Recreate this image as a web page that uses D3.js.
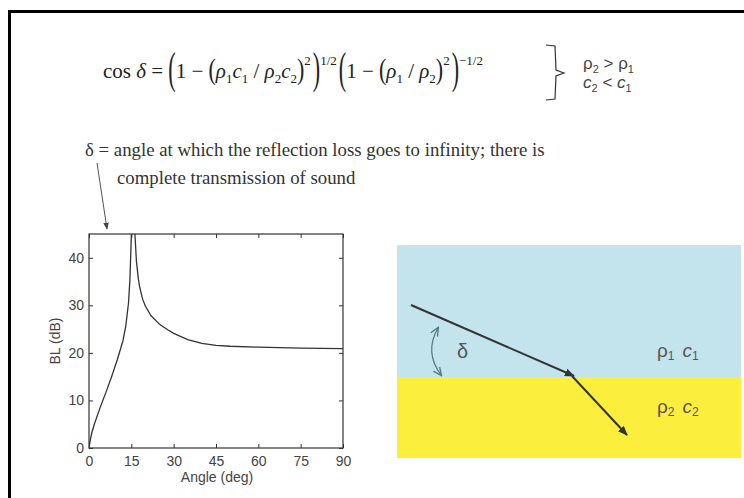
<!DOCTYPE html>
<html>
<head>
<meta charset="utf-8">
<script src="https://cdn.jsdelivr.net/npm/d3@7"></script>
<style>
  html, body { margin: 0; padding: 0; background: #fff; }
  svg { display: block; }
</style>
</head>
<body>
<svg id="fig" width="744" height="498"></svg>
<script>
// BL vs grazing angle
const angles = [0, 0.5, 1, 2, 4, 6, 8, 10, 12, 13, 14, 14.5, 15, 15.6, 16.3, 16.8, 17.5, 18, 19, 20, 22, 25, 28, 30, 35, 40, 45, 50, 60, 75, 90];
const blValues = [0, 1.8, 3.2, 5.2, 8.6, 11.7, 15, 18.5, 22.5, 25.5, 30.5, 35.5, 44.5, 62, 44.7, 39.3, 35.5, 33.7, 31.3, 29.8, 27.8, 26.0, 24.8, 24.1, 22.8, 22.0, 21.6, 21.4, 21.2, 21.0, 20.9];
const xTicks = [0, 15, 30, 45, 60, 75, 90];
const yTicks = [0, 10, 20, 30, 40];

const svg = d3.select('#fig');
const serif = 'Liberation Serif, Times New Roman, serif';
const sans = 'Liberation Sans, Arial, sans-serif';

// slide frame (only left/top visible)
svg.append('rect')
  .attr('x', 9.5).attr('y', 11.5)
  .attr('width', 900).attr('height', 700)
  .attr('fill', 'none').attr('stroke', '#000').attr('stroke-width', 3);

// ---- formula, laid out piece by piece ----
const formula = [
  ['cos ', 'n'], ['δ', 'i'], [' = ', 'n'], ['(', 'big'], ['1 − ', 'n'], ['(', 'mid'],
  ['ρ', 'i'], ['1', 'sub'], ['c', 'i'], ['1', 'sub'], [' / ', 'n'], ['ρ', 'i'], ['2', 'sub'], ['c', 'i'], ['2', 'sub'],
  [')', 'mid'], ['2', 'sup'], [')', 'big'], ['1/2', 'sup'],
  ['(', 'big'], ['1 − ', 'n'], ['(', 'mid'], ['ρ', 'i'], ['1', 'sub'], [' / ', 'n'], ['ρ', 'i'], ['2', 'sub'],
  [')', 'mid'], ['2', 'sup'], [')', 'big'], ['−1/2', 'sup']
];
const fBase = 78;
let cx = 103;
const fg = svg.append('g').attr('font-family', serif).attr('fill', '#222');
formula.forEach(([t, kind]) => {
  let el;
  if (kind === 'big' || kind === 'mid') {
    const sy = kind === 'big' ? 2.0 : 1.35;
    el = fg.append('text')
      .attr('transform', `translate(${cx},${fBase - 7}) scale(1,${sy})`)
      .attr('y', 6).attr('font-size', 22).text(t);
  } else {
    const dy = kind === 'sub' ? 5 : kind === 'sup' ? -13 : 0;
    el = fg.append('text').attr('x', cx).attr('y', fBase + dy)
      .attr('font-size', kind === 'sub' || kind === 'sup' ? 13 : 21)
      .attr('font-style', kind === 'i' ? 'italic' : null)
      .text(t);
  }
  el.attr('xml:space', 'preserve').style('white-space', 'pre');
  cx += el.node().getComputedTextLength() + (kind === 'sup' ? 2 : 0);
});

// brace + conditions
svg.append('path')
  .attr('d', 'M546,45 L555,46 L556,70 L564,73 L556,76 L555,99 L546,100')
  .attr('fill', 'none').attr('stroke', '#333').attr('stroke-width', 1.2);
const cond = [['ρ', '2', ' > ρ', '1'], ['c', '2', ' < c', '1']];
cond.forEach((c, i) => {
  const t = svg.append('text')
    .attr('x', 583).attr('y', 69 + i * 19)
    .attr('font-family', sans).attr('font-size', 17).attr('fill', '#444');
  t.append('tspan').text(c[0]).attr('font-style', i ? 'italic' : null);
  t.append('tspan').text(c[1]).attr('font-size', 11).attr('dy', 4);
  t.append('tspan').text(c[2]).attr('dy', -4).attr('font-style', i ? 'italic' : null);
  t.append('tspan').text(c[3]).attr('font-size', 11).attr('dy', 4);
});

// ---- annotation ----
svg.append('text')
  .attr('x', 85).attr('y', 156)
  .attr('font-family', serif).attr('font-size', 18.8).attr('fill', '#333')
  .text('δ = angle at which the reflection loss goes to infinity; there is');
svg.append('text')
  .attr('x', 117).attr('y', 184)
  .attr('font-family', serif).attr('font-size', 18.8).attr('fill', '#333')
  .text('complete transmission of sound');

const defs = svg.append('defs');
defs.append('marker')
  .attr('id', 'ah').attr('viewBox', '0 0 10 10').attr('refX', 9).attr('refY', 5)
  .attr('markerWidth', 7).attr('markerHeight', 7).attr('orient', 'auto')
  .append('path').attr('d', 'M0,1 L10,5 L0,9 Z').attr('fill', '#444');
defs.append('marker')
  .attr('id', 'ahBig').attr('viewBox', '0 0 10 10').attr('refX', 9).attr('refY', 5)
  .attr('markerWidth', 5).attr('markerHeight', 5).attr('orient', 'auto')
  .append('path').attr('d', 'M0,1 L10,5 L0,9 Z').attr('fill', '#333');
defs.append('marker')
  .attr('id', 'ahArc').attr('viewBox', '0 0 10 10').attr('refX', 8).attr('refY', 5)
  .attr('markerWidth', 8).attr('markerHeight', 8).attr('orient', 'auto-start-reverse')
  .append('path').attr('d', 'M0,1 L9,5 L0,9').attr('fill', 'none').attr('stroke', '#55777d').attr('stroke-width', 1.4);

svg.append('line')
  .attr('x1', 97).attr('y1', 163).attr('x2', 107).attr('y2', 229)
  .attr('stroke', '#555').attr('stroke-width', 1).attr('marker-end', 'url(#ah)');

// ---- BL plot ----
const plot = { left: 89, right: 343, top: 234, bottom: 448 };
const x = d3.scaleLinear().domain([0, 90]).range([plot.left, plot.right]);
const y = d3.scaleLinear().domain([0, 45]).range([plot.bottom, plot.top]);

defs.append('clipPath').attr('id', 'plotClip')
  .append('rect').attr('x', plot.left).attr('y', plot.top)
  .attr('width', plot.right - plot.left).attr('height', plot.bottom - plot.top);

const g = svg.append('g');
const styleAxis = (sel) => {
  sel.select('.domain').remove();
  sel.selectAll('line').attr('stroke', '#333');
  sel.selectAll('text').attr('font-family', sans).attr('font-size', 14).attr('fill', '#444');
};
g.append('g').attr('transform', `translate(0,${plot.bottom})`)
  .call(d3.axisBottom(x).tickValues(xTicks).tickSize(-4).tickPadding(8)).call(styleAxis);
g.append('g').attr('transform', `translate(0,${plot.top})`)
  .call(d3.axisTop(x).tickValues(xTicks).tickSize(-4).tickFormat('')).call(styleAxis);
g.append('g').attr('transform', `translate(${plot.left},0)`)
  .call(d3.axisLeft(y).tickValues(yTicks).tickSize(-4).tickPadding(5)).call(styleAxis);
g.append('g').attr('transform', `translate(${plot.right},0)`)
  .call(d3.axisRight(y).tickValues(yTicks).tickSize(-4).tickFormat('')).call(styleAxis);

g.append('rect')
  .attr('x', plot.left).attr('y', plot.top)
  .attr('width', plot.right - plot.left).attr('height', plot.bottom - plot.top)
  .attr('fill', 'none').attr('stroke', '#333').attr('stroke-width', 1.2);

g.append('path')
  .datum(angles.map((a, i) => [a, blValues[i]]))
  .attr('clip-path', 'url(#plotClip)')
  .attr('fill', 'none').attr('stroke', '#333').attr('stroke-width', 1.3)
  .attr('d', d3.line().x((d) => x(d[0])).y((d) => y(d[1])));

g.append('text')
  .attr('x', (plot.left + plot.right) / 2 + 1).attr('y', 482)
  .attr('text-anchor', 'middle').attr('font-family', sans).attr('font-size', 14).attr('fill', '#444')
  .text('Angle (deg)');
g.append('text')
  .attr('transform', `translate(60,${(plot.top + plot.bottom) / 2}) rotate(-90)`)
  .attr('text-anchor', 'middle').attr('font-family', sans).attr('font-size', 14).attr('fill', '#444')
  .text('BL (dB)');

// ---- refraction sketch ----
svg.append('rect').attr('x', 397).attr('y', 245).attr('width', 344).attr('height', 132).attr('fill', '#c4e4ed');
svg.append('rect').attr('x', 397).attr('y', 377).attr('width', 344).attr('height', 81).attr('fill', '#fcee3c');

svg.append('line')
  .attr('x1', 411).attr('y1', 305).attr('x2', 574).attr('y2', 376)
  .attr('stroke', '#333').attr('stroke-width', 2).attr('marker-end', 'url(#ahBig)');
svg.append('line')
  .attr('x1', 572).attr('y1', 376).attr('x2', 627).attr('y2', 435)
  .attr('stroke', '#333').attr('stroke-width', 2).attr('marker-end', 'url(#ahBig)');

svg.append('path')
  .attr('d', 'M438,328 Q424,352 441,375')
  .attr('fill', 'none').attr('stroke', '#55777d').attr('stroke-width', 1.2)
  .attr('marker-start', 'url(#ahArc)').attr('marker-end', 'url(#ahArc)');

svg.append('text').attr('x', 457).attr('y', 358)
  .attr('font-family', sans).attr('font-size', 20).attr('fill', '#555').text('δ');

const media = [['1', 357], ['2', 413]];
media.forEach(([n, yy]) => {
  const t = svg.append('text').attr('x', 657).attr('y', yy)
    .attr('font-family', sans).attr('font-size', 19).attr('fill', '#555');
  t.append('tspan').text('ρ');
  t.append('tspan').text(n).attr('font-size', 12).attr('dy', 3);
  t.append('tspan').text('c').attr('dx', 8).attr('dy', -3).attr('font-style', 'italic');
  t.append('tspan').text(n).attr('font-size', 12).attr('dy', 3);
});
</script>
</body>
</html>
